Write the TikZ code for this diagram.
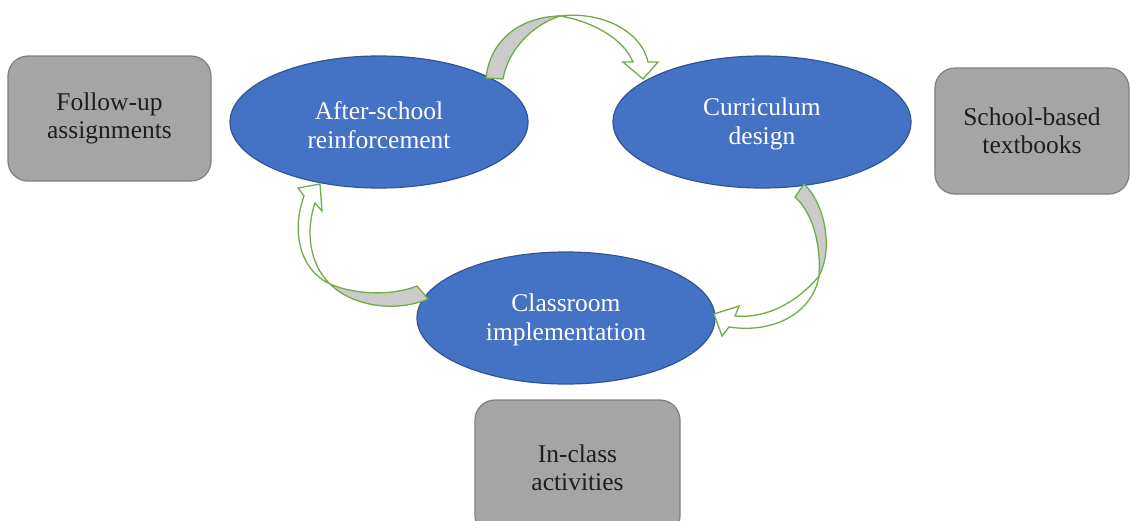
\documentclass[tikz,border=0pt]{standalone}
\usepackage{fontspec}
\setmainfont{Liberation Serif}
\usetikzlibrary{shapes.geometric}
\definecolor{ellblue}{HTML}{4472C4}
\definecolor{ellline}{HTML}{2F5597}
\definecolor{boxgray}{HTML}{A5A5A5}
\definecolor{boxline}{HTML}{7F7F7F}
\definecolor{arrgreen}{HTML}{70AD47}
\definecolor{backgray}{HTML}{CBCBCB}
\definecolor{txtdark}{HTML}{1E1E1E}
\tikzset{
  stage/.style={ellipse, draw=ellline, line width=1.2pt, fill=ellblue, text=white,
    minimum width=298pt, minimum height=132pt, inner sep=0pt, align=center,
    font=\fontsize{25.5}{28.5}\selectfont},
  support/.style={rectangle, rounded corners=20pt, draw=boxline, line width=1.2pt, fill=boxgray,
    text=txtdark, inner sep=0pt, align=center, font=\fontsize{25.5}{28.5}\selectfont},
  backface/.style={draw=arrgreen, line width=1.3pt, fill=backgray, line join=round},
  frontface/.style={draw=arrgreen, line width=1.3pt, fill=white, line join=miter}
}
\begin{document}
\begin{tikzpicture}[x=1pt,y=-1pt]
\useasboundingbox (0,0) rectangle (1130,520);
\clip (0,0) rectangle (1130,520);
\fill[white] (0,0) rectangle (1130,520);

% support boxes
\node[support, minimum width=203pt, minimum height=125pt] (follow) at (109.5,118.5) {Follow-up\\assignments};
\node[support, minimum width=194pt, minimum height=126pt] (textbooks) at (1032,131) {School-based\\textbooks};
\node[support, minimum width=205pt, minimum height=136pt] (inclass) at (577.5,468) {In-class\\activities};

% stages
\node[stage] (after) at (379,122) {};
\node[stage] (curr) at (762,122) {};
\node[stage] (class) at (566,318) {};
\node[text=white, align=center, font=\fontsize{25.5}{28.5}\selectfont] (aftertxt) at ([yshift=-3pt]after.center) {After-school\\reinforcement};
\node[text=white, align=center, font=\fontsize{25.5}{28.5}\selectfont] (currtxt) at ([yshift=-2pt]curr.center) {Curriculum\\design};
\node[text=white, align=center, font=\fontsize{25.5}{28.5}\selectfont] (classtxt) at ([yshift=-2pt]class.center) {Classroom\\implementation};

% top curved arrow: after-school -> curriculum
\coordinate (tAo) at (486,78);
\coordinate (tAi) at (503,79);
\coordinate (tM) at (560,16);
\draw[backface] (tAo) .. controls (490,40) and (520,17) .. (tM)
  .. controls (532,25) and (508,50) .. (tAi) -- cycle;
\draw[frontface] (tM) .. controls (600,11) and (641,30) .. (648,62)
  -- (658,62) -- (643,79) -- (623,62) -- (633,62)
  .. controls (624,40) and (595,22) .. (tM) -- cycle;

% right curved arrow: curriculum -> classroom
\coordinate (rAo) at (804,184);
\coordinate (rAi) at (795,197);
\coordinate (rM) at (819,276);
\draw[backface] (rAo) .. controls (826,205) and (833,250) .. (rM)
  .. controls (821,250) and (815,215) .. (rAi) -- cycle;
\draw[frontface] (rM) .. controls (813,312) and (775,334) .. (729,327)
  -- (722,336) -- (714,314) -- (739,306) -- (735,316)
  .. controls (765,319) and (797,303) .. (rM) -- cycle;

% left curved arrow: classroom -> after-school
\coordinate (lAo) at (428,299);
\coordinate (lAi) at (417,286);
\coordinate (lM) at (330,284);
\draw[backface] (lAo) .. controls (395,313) and (352,306) .. (lM)
  .. controls (358,296) and (395,295) .. (lAi) -- cycle;
\draw[frontface] (lM) .. controls (300,270) and (291,232) .. (304,196)
  -- (298,188) -- (320,184) -- (322,211) -- (315,203)
  .. controls (305,232) and (310,265) .. (lM) -- cycle;
\end{tikzpicture}
\end{document}
